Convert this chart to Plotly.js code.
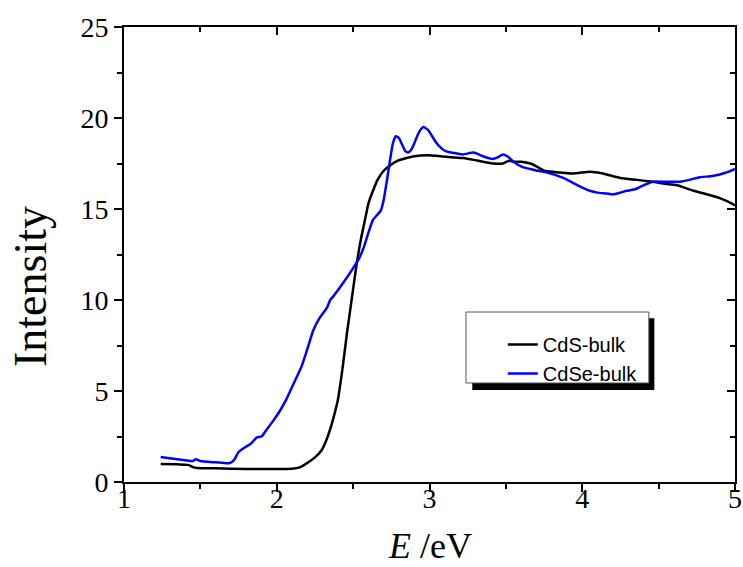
<!DOCTYPE html>
<html>
<head>
<meta charset="utf-8">
<script src="https://cdn.plot.ly/plotly-3.0.1.min.js"></script>
<style>html,body{margin:0;padding:0;background:#fff;}#chart{width:743px;height:567px;}</style>
</head>
<body>
<div id="chart"></div>
<script>
// CdS-bulk
const cdsE = [1.24,1.35,1.42,1.45,1.48,1.6,1.8,2.0,2.1,2.15,2.2,2.25,2.29,2.32,2.35,2.38,2.40,2.43,2.46,2.49,2.52,2.55,2.58,2.60,2.63,2.66,2.70,2.75,2.79,2.85,2.90,2.99,3.07,3.14,3.22,3.29,3.35,3.42,3.48,3.52,3.55,3.6,3.66,3.71,3.75,3.86,3.94,4.05,4.1,4.16,4.25,4.36,4.46,4.53,4.62,4.73,4.82,4.90,4.98,5.0];
const cdsI = [0.99,0.97,0.94,0.82,0.77,0.75,0.72,0.71,0.73,0.8,1.04,1.35,1.7,2.2,2.9,3.8,4.5,6.2,8.2,10.0,11.8,13.3,14.5,15.3,16.0,16.6,17.1,17.45,17.65,17.8,17.9,17.95,17.9,17.85,17.8,17.7,17.6,17.5,17.5,17.65,17.6,17.6,17.5,17.3,17.1,17.0,16.95,17.05,17.0,16.9,16.7,16.6,16.5,16.4,16.3,16.0,15.8,15.6,15.3,15.2];
// CdSe-bulk
const cdseE = [1.24,1.3,1.4,1.45,1.47,1.5,1.6,1.69,1.72,1.75,1.79,1.83,1.87,1.90,1.94,1.98,2.02,2.06,2.11,2.16,2.20,2.24,2.28,2.33,2.35,2.37,2.44,2.50,2.54,2.57,2.60,2.63,2.66,2.68,2.70,2.72,2.74,2.76,2.78,2.80,2.82,2.84,2.86,2.88,2.90,2.93,2.96,2.99,3.01,3.04,3.07,3.10,3.14,3.18,3.22,3.29,3.35,3.41,3.45,3.48,3.51,3.55,3.61,3.66,3.71,3.77,3.88,3.97,4.05,4.10,4.16,4.20,4.25,4.29,4.35,4.40,4.46,4.55,4.64,4.70,4.77,4.84,4.90,4.96,5.0];
const cdseI = [1.37,1.3,1.2,1.15,1.25,1.15,1.08,1.03,1.2,1.65,1.9,2.1,2.45,2.5,2.95,3.4,3.9,4.5,5.4,6.3,7.3,8.35,9.0,9.6,10.0,10.2,11.0,11.75,12.3,12.9,13.7,14.4,14.7,14.9,15.5,16.5,17.6,18.6,19.0,18.9,18.55,18.2,18.1,18.25,18.6,19.2,19.5,19.35,19.1,18.7,18.4,18.2,18.1,18.05,18.0,18.1,17.9,17.75,17.85,18.0,17.9,17.6,17.3,17.2,17.1,17.0,16.7,16.3,16.0,15.9,15.85,15.8,15.9,16.0,16.1,16.3,16.5,16.5,16.5,16.6,16.75,16.8,16.9,17.05,17.2];
const xTickVals = [1,2,3,4,5];
const yTickVals = [0,5,10,15,20,25];
const seriesNames = ['CdS-bulk','CdSe-bulk'];

const serif = 'Liberation Serif, Times New Roman, serif';
const traces = [
  {x: cdsE, y: cdsI, name: seriesNames[0], mode: 'lines', line: {color: '#000000', width: 2.5, shape: 'spline', smoothing: 0.5}, hoverinfo: 'skip'},
  {x: cdseE, y: cdseI, name: seriesNames[1], mode: 'lines', line: {color: '#0000ff', width: 2.5, shape: 'spline', smoothing: 0.5}, hoverinfo: 'skip'},
  {x: [1], y: [0], xaxis: 'x2', yaxis: 'y2', mode: 'lines', showlegend: false, hoverinfo: 'skip', line: {width: 0}}
];

const axBase = {
  showline: true, linecolor: '#000', linewidth: 2, showgrid: false, zeroline: false,
  tickwidth: 2, tickcolor: '#000', ticklen: 8,
  tickfont: {family: serif, size: 28, color: '#000'}
};

const layout = {
  width: 743, height: 567,
  margin: {l: 124, r: 8, t: 27, b: 85},
  paper_bgcolor: '#fff', plot_bgcolor: '#fff',
  showlegend: true,
  legend: {x: 0.62, y: 0.345, xanchor: 'left', yanchor: 'top', bgcolor: 'rgba(0,0,0,0)', borderwidth: 0,
    font: {family: 'Liberation Sans, Arial, sans-serif', size: 20, color: '#000'}, tracegroupgap: 0, itemwidth: 30},
  xaxis: Object.assign({}, axBase, {range: [1, 5], tickvals: xTickVals, ticks: 'outside', ticklabelstandoff: -18,
    minor: {dtick: 0.5, ticks: 'outside', ticklen: 5, tickwidth: 2, tickcolor: '#000'}}),
  yaxis: Object.assign({}, axBase, {range: [0, 25], tickvals: yTickVals, ticks: 'outside',
    minor: {dtick: 2.5, ticks: 'outside', ticklen: 5, tickwidth: 2, tickcolor: '#000'}}),
  xaxis2: Object.assign({}, axBase, {overlaying: 'x', side: 'top', range: [1, 5], tickvals: xTickVals, ticks: 'inside',
    showticklabels: false, minor: {dtick: 0.5, ticks: 'inside', ticklen: 5, tickwidth: 2, tickcolor: '#000'}}),
  yaxis2: Object.assign({}, axBase, {overlaying: 'y', side: 'right', range: [0, 25], tickvals: yTickVals, ticks: 'inside',
    showticklabels: false, minor: {dtick: 2.5, ticks: 'inside', ticklen: 5, tickwidth: 2, tickcolor: '#000'}}),
  shapes: [
    {type: 'rect', xref: 'paper', yref: 'paper', x0: 0.570, x1: 0.868, y0: 0.202, y1: 0.360,
      fillcolor: '#000', line: {width: 0}, layer: 'above'},
    {type: 'rect', xref: 'paper', yref: 'paper', x0: 0.5597, x1: 0.859, y0: 0.2176, y1: 0.3736,
      fillcolor: '#fff', line: {color: '#555', width: 1}, layer: 'above'}
  ],
  annotations: [
    {text: 'Intensity', xref: 'paper', yref: 'paper', x: (30 - 124) / 611, y: (482 - 287) / 455,
      xanchor: 'center', yanchor: 'middle', textangle: -90, showarrow: false,
      font: {family: serif, size: 46, color: '#000'}},
    {text: '<i>E</i> /eV', xref: 'paper', yref: 'paper', x: 0.5, y: (482 - 546) / 455,
      xanchor: 'center', yanchor: 'middle', showarrow: false,
      font: {family: serif, size: 36, color: '#000'}}
  ]
};

Plotly.newPlot('chart', traces, layout, {displayModeBar: false, staticPlot: true});
</script>
</body>
</html>
